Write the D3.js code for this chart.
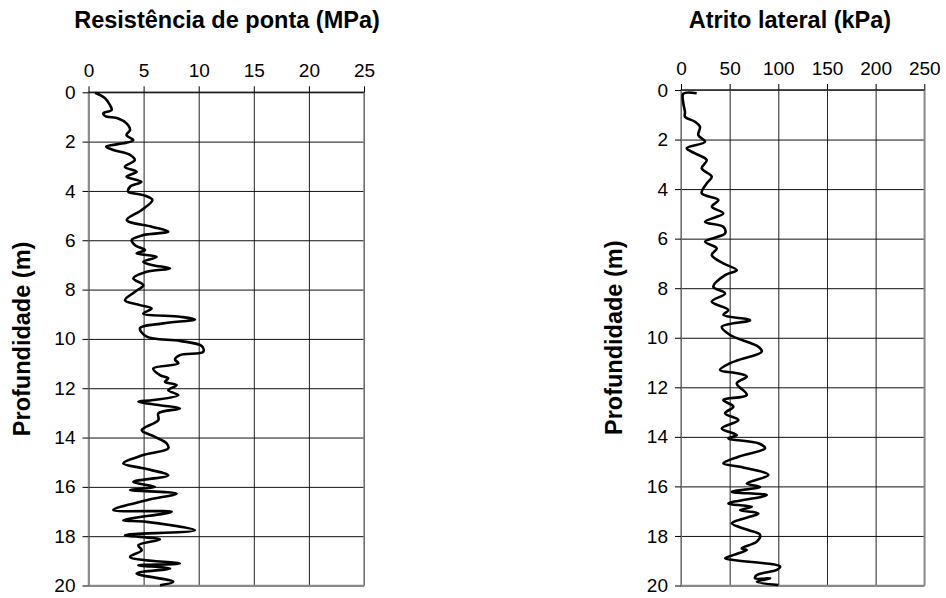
<!DOCTYPE html>
<html><head><meta charset="utf-8">
<script src="https://cdn.jsdelivr.net/npm/d3@7"></script>
<style>body{margin:0;background:#fff}svg{display:block}text{font-family:"Liberation Sans",Arial,sans-serif}</style>
</head><body><svg id="c" width="946" height="598"></svg>
<script>
// ---------- data ----------
const depthTicks = [0,2,4,6,8,10,12,14,16,18,20];
const qcTicks = [0,5,10,15,20,25];
const fsTicks = [0,50,100,150,200,250];

const qcDepth = [0.02,0.24,0.52,0.72,0.85,0.96,1.06,1.26,1.53,1.73,1.94,2.07,2.2,2.34,2.54,2.75,3.02,3.22,3.42,3.63,3.83,4.03,4.17,4.37,4.77,5.18,5.45,5.65,5.79,5.99,6.2,6.4,6.53,6.67,6.87,7.0,7.14,7.28,7.55,7.82,8.09,8.43,8.63,8.77,8.97,9.1,9.21,9.37,9.57,9.91,10.08,10.29,10.52,10.66,10.83,10.99,11.2,11.47,11.6,11.74,11.87,12.08,12.28,12.48,12.55,12.69,12.82,13.02,13.29,13.7,13.97,14.24,14.44,14.71,15.05,15.25,15.53,15.8,16.0,16.13,16.27,16.54,16.94,17.01,17.35,17.42,17.76,17.96,18.13,18.37,18.57,18.84,19.11,19.18,19.31,19.51,19.85,19.99];
const qcValue = [0.6,1.5,1.95,2.1,1.35,1.5,2.7,3.45,3.77,3.45,4.07,3.15,1.6,2.25,3.77,4.2,3.3,4.37,3.45,4.8,3.77,3.6,4.97,5.8,4.83,3.47,5.73,7.24,4.97,3.92,4.22,5.13,4.37,6.19,4.97,5.73,7.4,5.28,4.07,4.97,4.22,3.31,4.67,5.73,4.97,8.3,9.66,6.79,4.67,5.28,8.3,10.27,10.42,8.3,7.85,8.15,5.88,6.49,7.24,6.94,8.0,7.24,8.15,5.88,4.52,6.49,8.3,6.34,6.34,4.83,6.03,7.1,7.24,4.97,3.16,4.97,7.24,4.07,6.03,3.77,8.0,5.28,2.25,7.55,3.16,5.28,9.66,3.31,6.49,4.52,4.83,3.77,8.3,4.52,7.4,4.37,7.7,6.49];

const fsDepth = [0.13,0.15,0.54,0.88,1.08,1.28,1.48,1.82,2.09,2.35,2.56,2.83,3.16,3.5,3.77,4.17,4.44,4.71,4.98,5.32,5.52,5.79,6.12,6.39,6.66,7.0,7.27,7.47,7.94,8.21,8.54,8.88,9.08,9.29,9.56,9.89,10.36,10.56,10.9,11.03,11.3,11.44,11.57,11.84,12.31,12.51,12.78,13.05,13.32,13.66,13.93,14.06,14.26,14.46,14.8,15.07,15.21,15.54,15.88,16.02,16.22,16.35,16.69,16.82,16.96,17.09,17.49,17.76,17.96,18.23,18.5,18.57,18.9,18.97,19.24,19.37,19.58,19.71,19.71,19.85,19.98];
const fsValue = [16.1,2.4,2.4,4.1,4.1,14.4,19.5,17.8,24.7,5.9,14.4,26.4,21.3,31.6,26.4,21.3,38.4,31.6,43.5,24.7,43.5,45.3,24.7,36.7,31.6,43.5,57.3,45.3,33.2,45.3,31.6,48.7,43.5,71.0,41.9,50.4,79.5,83.0,59.0,50.4,40.1,59.0,67.6,57.3,67.6,43.5,53.8,45.3,59.0,41.9,57.3,48.7,79.5,86.4,59.0,43.5,60.7,89.8,67.6,81.3,52.2,88.2,48.7,72.7,60.7,79.5,52.2,69.2,81.3,77.9,62.4,67.6,45.3,53.8,101.9,98.5,77.9,76.1,91.6,77.9,100.1];

// ---------- drawing ----------
const svg = d3.select("#c");
const FONT = "Liberation Sans, Arial, sans-serif";

function panel(o){
  const x = d3.scaleLinear().domain([o.xTicks[0], o.xTicks[o.xTicks.length-1]]).range([o.x0, o.x1]);
  const y = d3.scaleLinear().domain([0,20]).range([o.y0, o.y1]);
  const g = svg.append("g");
  // vertical gridlines
  g.append("g").attr("transform",`translate(0,${o.y0})`)
    .call(d3.axisTop(x).tickValues(o.xTicks).tickSizeInner(-(o.y1-o.y0)).tickSizeOuter(0).tickFormat(""))
    .call(s=>{s.select(".domain").remove(); s.selectAll("line").attr("stroke","#222").attr("stroke-width",1);});
  // horizontal gridlines
  g.append("g").attr("transform",`translate(${o.x0},0)`)
    .call(d3.axisLeft(y).tickValues(depthTicks).tickSizeInner(-(o.x1-o.x0)).tickSizeOuter(0).tickFormat(""))
    .call(s=>{s.select(".domain").remove(); s.selectAll("line").attr("stroke","#111").attr("stroke-width",1);});
  // border
  g.append("rect").attr("x",o.x0).attr("y",o.y0).attr("width",o.x1-o.x0).attr("height",o.y1-o.y0)
    .attr("fill","none").attr("stroke","#8a8a8a").attr("stroke-width",1.5);
  g.append("line").attr("x1",o.x0).attr("x2",o.x1).attr("y1",o.y0).attr("y2",o.y0).attr("stroke","#000");
  // top axis
  g.append("g").attr("transform",`translate(0,${o.y0})`)
    .call(d3.axisTop(x).tickValues(o.xTicks).tickSizeInner(6).tickSizeOuter(0).tickPadding(9))
    .call(s=>{s.select(".domain").remove(); s.selectAll("line").attr("stroke","#000");
      s.selectAll("text").attr("font-size",19).attr("fill","#000").attr("font-family",FONT);});
  // left axis
  g.append("g").attr("transform",`translate(${o.x0},0)`)
    .call(d3.axisLeft(y).tickValues(depthTicks).tickSizeInner(6).tickSizeOuter(0).tickPadding(7))
    .call(s=>{s.select(".domain").remove(); s.selectAll("line").attr("stroke","#000");
      s.selectAll("text").attr("font-size",19).attr("fill","#000").attr("font-family",FONT);});
  // title
  g.append("text").attr("x",o.titleX).attr("y",28).attr("text-anchor","middle")
    .attr("font-size",23.5).attr("font-weight","bold").attr("font-family",FONT).text(o.title);
  // y label
  g.append("text").attr("transform",`translate(${o.ylabX},${(o.y0+o.y1)/2}) rotate(-90)`)
    .attr("text-anchor","middle").attr("font-size",23.5).attr("font-weight","bold").attr("font-family",FONT).text("Profundidade (m)");
  // curve
  const pts = o.depth.map((d,i)=>[o.value[i], d]);
  g.append("path").datum(pts)
    .attr("d", d3.line().x(p=>x(p[0])).y(p=>y(p[1])).curve(d3.curveCatmullRom.alpha(0.5)))
    .attr("fill","none").attr("stroke","#000").attr("stroke-width",2.6).attr("stroke-linejoin","round");
}

panel({x0:88.5,x1:364,y0:92.3,y1:585.5,xTicks:qcTicks,title:"Resistência de ponta (MPa)",titleX:227,ylabX:30,depth:qcDepth,value:qcValue});
panel({x0:681,x1:924.3,y0:90,y1:585.5,xTicks:fsTicks,title:"Atrito lateral (kPa)",titleX:790,ylabX:622,depth:fsDepth,value:fsValue});
</script></body></html>
